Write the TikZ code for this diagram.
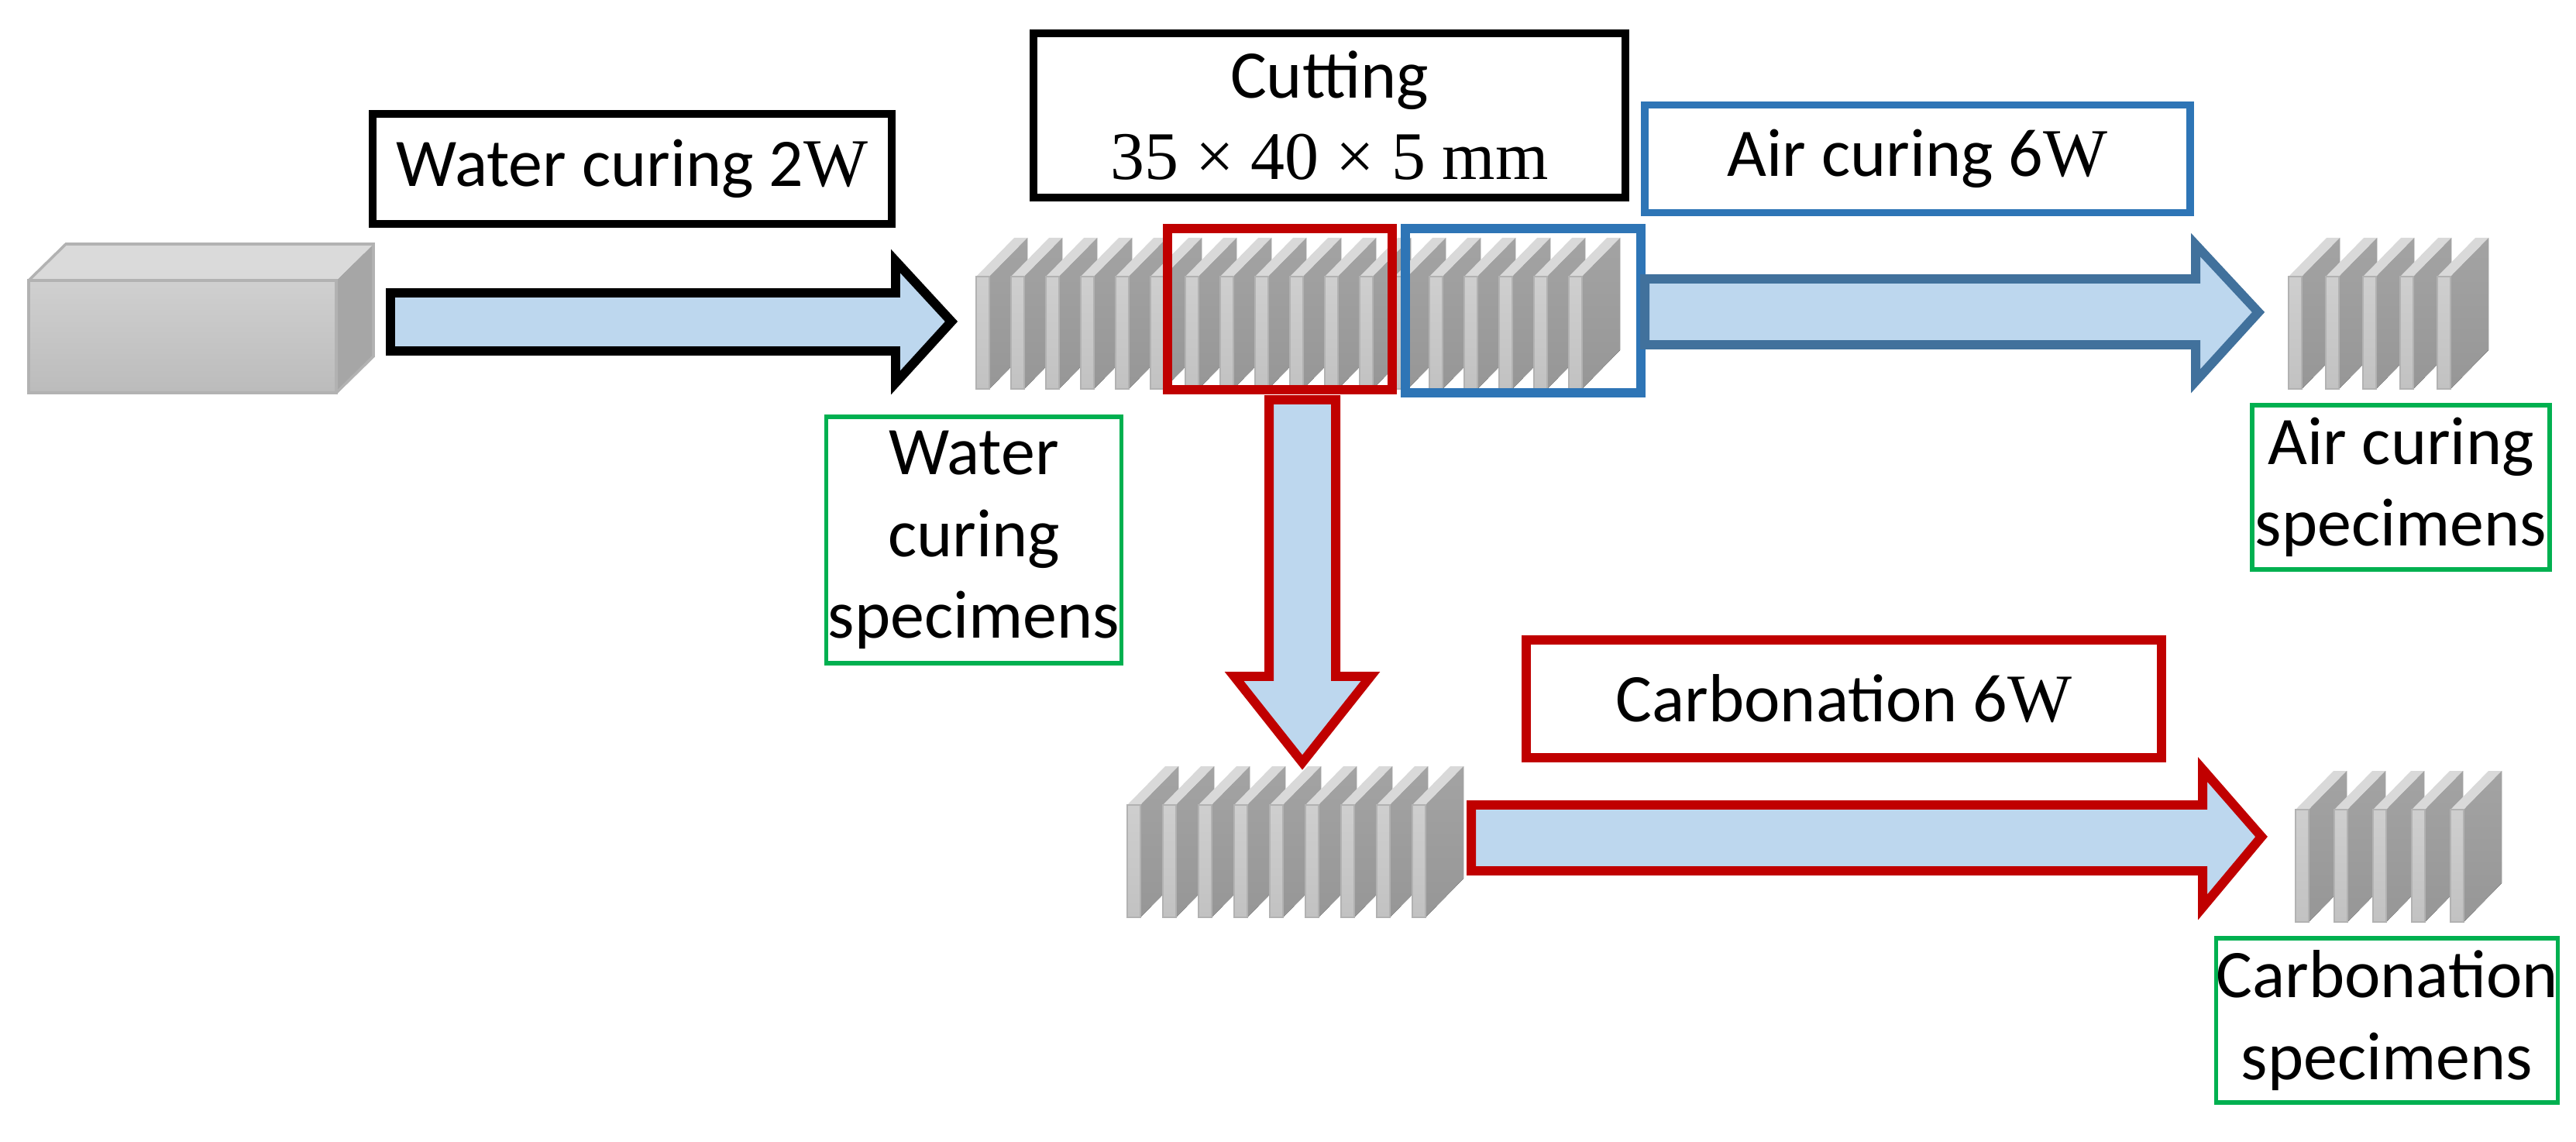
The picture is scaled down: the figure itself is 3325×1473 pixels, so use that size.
\documentclass[tikz,border=0pt]{standalone}
\usepackage{fontspec}
\setmainfont{Carlito}
\newfontfamily\tms{Liberation Serif}
\definecolor{flowfill}{HTML}{BDD7EE}
\definecolor{redline}{HTML}{C00000}
\definecolor{blueline}{HTML}{2E75B6}
\definecolor{bluearrow}{HTML}{41719C}
\definecolor{greenline}{HTML}{00B050}
% one thin specimen plate: front x, front top y
\newcommand\plate[2]{%
  \fill[top color=gray!72,bottom color=gray!82] (#1+17,#2) -- (#1+66,#2-50) -- (#1+66,#2+95) -- (#1+17,#2+145) -- cycle;
  \fill[gray!30] (#1,#2) -- (#1+49,#2-50) -- (#1+66,#2-50) -- (#1+17,#2) -- cycle;
  \draw[gray!60,line width=0.6pt,top color=gray!38,bottom color=gray!48] (#1,#2) rectangle (#1+17,#2+145);
}
\tikzset{
  label box/.style={draw,line width=2.8pt,minimum width=#1,inner sep=0pt,align=center,
    font=\fontsize{25}{30}\selectfont},
  spec box/.style={draw=greenline,line width=1.6pt,inner sep=0pt,align=center,
    font=\fontsize{25}{30}\selectfont},
  flow/.style={fill=flowfill,line width=3.4pt,line join=miter}
}
\begin{document}
\begin{tikzpicture}[x=0.01cm,y=-0.01cm]
    \useasboundingbox (0,0) rectangle (3325,1473);
    % Block before cutting
    \fill[gray!70] (434,362) -- (482,315) -- (482,460) -- (434,507) -- cycle;
    \fill[gray!29] (37,362) -- (85,315) -- (482,315) -- (434,362) -- cycle;
    \draw[gray!60,line width=1pt,top color=gray!37,bottom color=gray!53] (37,362) rectangle (434,507);
    \draw[gray!60,line width=1pt] (37,362) -- (85,315) -- (482,315) -- (482,460) -- (434,507);
    % Plates
    \foreach \i in {0,...,17} {\plate{1260+45*\i}{357}}
    \foreach \i in {0,...,4} {\plate{2954+48*\i}{357}}
    \foreach \i in {0,...,8} {\plate{1455+46*\i}{1039}}
    \foreach \i in {0,...,4} {\plate{2963+50*\i}{1045}}
    % Selection frames
    \draw[redline,line width=3.4pt] (1507,295) rectangle (1797,503);
    \draw[blueline,line width=3.4pt] (1814,295) rectangle (2118,507);
    % Labels
    \node[label box=6.7cm,minimum height=1.42cm] (water) at (816,218) {Water curing 2{\tms W}};
    \node[label box=7.63cm,minimum height=2.12cm] (cut) at (1716,149) {Cutting\\{\tms 35 × 40 × 5 mm}};
    \node[label box=7.04cm,minimum height=1.39cm,draw=blueline] (air) at (2475,205) {Air curing 6{\tms W}};
    \node[label box=8.2cm,minimum height=1.51cm,draw=redline,line width=3.4pt] (carb) at (2380,902) {Carbonation 6{\tms W}};
    \node[spec box,minimum width=3.81cm,minimum height=3.18cm] (waterspec) at (1257,697) {Water\\curing\\specimens};
    \node[spec box,minimum width=3.84cm,minimum height=2.12cm] (airspec) at (3099,629) {Air curing\\specimens};
    \node[spec box,minimum width=4.35cm,minimum height=2.12cm] (carbspec) at (3081,1317) {Carbonation\\specimens};
    % Flow arrows
    \draw[flow,draw=black] (504,378) -- (1156,378) -- (1156,337) -- (1228,415)
        -- (1156,494) -- (1156,453) -- (504,453) -- cycle;
    \draw[flow,draw=bluearrow] (2123,360) -- (2834,360) -- (2834,316) -- (2915,403)
        -- (2834,492) -- (2834,445) -- (2123,445) -- cycle;
    \draw[flow,draw=redline] (1899,1039) -- (2843,1039) -- (2843,993) -- (2919,1080)
        -- (2843,1171) -- (2843,1124) -- (1899,1124) -- cycle;
    \draw[flow,draw=redline] (1638,516) -- (1724,516) -- (1724,873) -- (1769,873) -- (1681,984)
        -- (1593,873) -- (1638,873) -- cycle;
\end{tikzpicture}
\end{document}
